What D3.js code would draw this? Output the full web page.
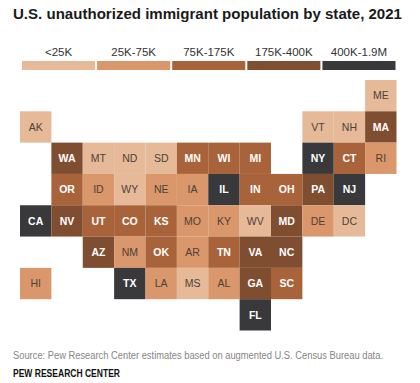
<!DOCTYPE html>
<html>
<head>
<meta charset="utf-8">
<script src="https://cdn.jsdelivr.net/npm/d3@7"></script>
<style>
  html, body { margin: 0; padding: 0; background: #fff; }
  text { font-family: "Liberation Sans", Arial, sans-serif; }
</style>
</head>
<body>
<svg id="chart"></svg>
<script>
// Legend bins
const binLabels = ['<25K', '25K-75K', '75K-175K', '175K-400K', '400K-1.9M'];
const binColors = ['#e6b999', '#d9976b', '#a9633a', '#7f4e31', '#39393b'];

// Which bin each state falls in
const under25k = ['AK', 'ME', 'VT', 'NH', 'MT', 'ND', 'SD', 'WY', 'WV', 'DC', 'MS'];
const from25kTo75k = ['RI', 'ID', 'NE', 'IA', 'MO', 'KY', 'DE', 'NM', 'AR', 'HI', 'LA', 'AL'];
const from75kTo175k = ['MN', 'WI', 'MI', 'CT', 'OR', 'IN', 'OH', 'UT', 'CO', 'KS', 'OK', 'TN', 'SC'];
const from175kTo400k = ['MA', 'WA', 'PA', 'NV', 'MD', 'AZ', 'VA', 'NC', 'GA'];
const over400k = ['NY', 'IL', 'NJ', 'CA', 'TX', 'FL'];
const stateBins = [under25k, from25kTo75k, from75kTo175k, from175kTo400k, over400k];

// Tile grid, one list per row, blanks are empty strings
const tileRows = [
    ['', '', '', '', '', '', '', '', '', '', '', 'ME'],
    ['AK', '', '', '', '', '', '', '', '', 'VT', 'NH', 'MA'],
    ['', 'WA', 'MT', 'ND', 'SD', 'MN', 'WI', 'MI', '', 'NY', 'CT', 'RI'],
    ['', 'OR', 'ID', 'WY', 'NE', 'IA', 'IL', 'IN', 'OH', 'PA', 'NJ', ''],
    ['CA', 'NV', 'UT', 'CO', 'KS', 'MO', 'KY', 'WV', 'MD', 'DE', 'DC', ''],
    ['', '', 'AZ', 'NM', 'OK', 'AR', 'TN', 'VA', 'NC', '', '', ''],
    ['HI', '', '', 'TX', 'LA', 'MS', 'AL', 'GA', 'SC', '', '', ''],
    ['', '', '', '', '', '', '', 'FL', '', '', '', '']
];

const width = 420;
const height = 383;

const svg = d3.select('#chart')
    .attr('width', width)
    .attr('height', height)
    .style('display', 'block');

// Title
svg.append('text')
    .attr('x', 13)
    .attr('y', 18.5)
    .attr('font-size', 14.5)
    .attr('font-weight', 'bold')
    .attr('fill', '#1a1a1a')
    .attr('textLength', 389)
    .attr('lengthAdjust', 'spacingAndGlyphs')
    .text('U.S. unauthorized immigrant population by state, 2021');

// Legend
const legendX = d3.scaleBand()
    .domain(binLabels)
    .range([22, 395.5])
    .paddingInner(0.027);

svg.selectAll('rect.legend')
    .data(binLabels)
    .enter()
    .append('rect')
    .attr('class', 'legend')
    .attr('x', d => legendX(d))
    .attr('y', 61)
    .attr('width', legendX.bandwidth())
    .attr('height', 9)
    .attr('fill', (d, i) => binColors[i]);

svg.selectAll('text.legend')
    .data(binLabels)
    .enter()
    .append('text')
    .attr('class', 'legend')
    .attr('x', d => legendX(d) + legendX.bandwidth() / 2)
    .attr('y', 56)
    .attr('text-anchor', 'middle')
    .attr('font-size', 11.5)
    .attr('fill', '#333')
    .text(d => d);

// Flatten the grid into one record per state
const tiles = [];
tileRows.forEach((row, r) => {
    row.forEach((code, c) => {
        if (code) {
            tiles.push({code: code, row: r, col: c, bin: stateBins.findIndex(b => b.includes(code))});
        }
    });
});

const x = d3.scaleBand()
    .domain(d3.range(tileRows[0].length))
    .range([20, 396.5]);

const y = d3.scaleBand()
    .domain(d3.range(tileRows.length))
    .range([80, 330.5]);

// State tiles
const tile = svg.selectAll('g.tile')
    .data(tiles)
    .enter()
    .append('g')
    .attr('class', 'tile')
    .attr('transform', d => 'translate(' + x(d.col) + ',' + y(d.row) + ')');

tile.append('rect')
    .attr('width', x.bandwidth())
    .attr('height', y.bandwidth())
    .attr('fill', d => binColors[d.bin]);

tile.append('text')
    .attr('x', x.bandwidth() / 2)
    .attr('y', y.bandwidth() / 2 + 3.8)
    .attr('text-anchor', 'middle')
    .attr('font-size', 10.5)
    .attr('font-weight', d => d.bin >= 2 ? 'bold' : 'normal')
    .attr('fill', d => d.bin >= 2 ? '#fff' : '#4d4238')
    .text(d => d.code);

// Footer
svg.append('text')
    .attr('x', 13)
    .attr('y', 358.5)
    .attr('font-size', 10)
    .attr('fill', '#858585')
    .attr('textLength', 370)
    .attr('lengthAdjust', 'spacingAndGlyphs')
    .text('Source: Pew Research Center estimates based on augmented U.S. Census Bureau data.');

svg.append('text')
    .attr('x', 13)
    .attr('y', 377)
    .attr('font-size', 10.5)
    .attr('font-weight', 'bold')
    .attr('fill', '#111')
    .attr('textLength', 107)
    .attr('lengthAdjust', 'spacingAndGlyphs')
    .text('PEW RESEARCH CENTER');
</script>
</body>
</html>
